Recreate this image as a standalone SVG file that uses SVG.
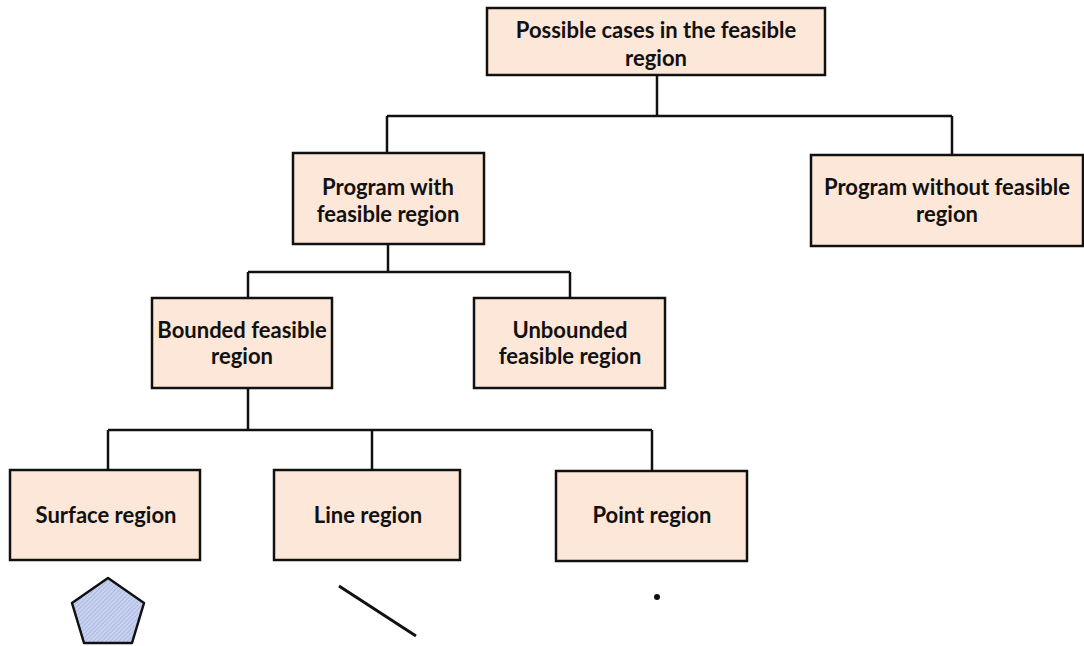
<svg xmlns="http://www.w3.org/2000/svg" width="1084" height="646" viewBox="0 0 1084 646">
<style>
.box{fill:#FCE7D8;stroke:#111;stroke-width:2.5}
.t{font-family:"Lato","Liberation Sans",sans-serif;font-weight:700;font-size:22px;fill:#111;text-anchor:middle}
.c{fill:none;stroke:#111;stroke-width:2.5}
</style>
<defs>
<pattern id="hatch" width="3" height="3" patternUnits="userSpaceOnUse" patternTransform="rotate(45)">
<rect width="3" height="3" fill="#C9D3F0"/>
<line x1="0" y1="0" x2="0" y2="3" stroke="#8FA0D8" stroke-width="1"/>
</pattern>
</defs>
<rect width="1084" height="646" fill="#fff"/>
<g id="connectors">
<path class="c" d="M657,75 V116 M387,116 H952 M387,116 V153 M952,116 V155"/>
<path class="c" d="M388,244 V272 M248,272 H570 M248,272 V298 M570,272 V298"/>
<path class="c" d="M248,388 V430 M108,430 H652 M108,430 V470 M372,430 V470 M652,430 V470"/>
</g>
<g id="root"><rect class="box" x="487" y="8" width="338" height="67"/><text class="t" x="656" y="38">Possible cases in the feasible</text><text class="t" x="656" y="66">region</text></g>
<g id="with"><rect class="box" x="293" y="153" width="191" height="91"/><text class="t" x="388" y="195">Program with</text><text class="t" x="388" y="222">feasible region</text></g>
<g id="without"><rect class="box" x="811" y="155" width="272" height="91"/><text class="t" x="947" y="195">Program without feasible</text><text class="t" x="947" y="222">region</text></g>
<g id="bounded"><rect class="box" x="152" y="298" width="180" height="90"/><text class="t" x="242" y="338">Bounded feasible</text><text class="t" x="242" y="364">region</text></g>
<g id="unbounded"><rect class="box" x="474" y="298" width="191" height="90"/><text class="t" x="570" y="338">Unbounded</text><text class="t" x="570" y="364">feasible region</text></g>
<g id="surface"><rect class="box" x="10" y="470" width="190" height="90"/><text class="t" x="106" y="523">Surface region</text></g>
<g id="line"><rect class="box" x="274" y="470" width="186" height="90"/><text class="t" x="368" y="523">Line region</text></g>
<g id="point"><rect class="box" x="556" y="471" width="191" height="90"/><text class="t" x="652" y="523">Point region</text></g>
<g id="shapes">
<polygon points="108,578 144,603 132,643 84,643 72,603" fill="url(#hatch)" stroke="#111" stroke-width="2.5" stroke-linejoin="round"/>
<line x1="339" y1="586" x2="416" y2="636" stroke="#111" stroke-width="3"/>
<circle cx="657" cy="597" r="3" fill="#111"/>
</g>
</svg>
